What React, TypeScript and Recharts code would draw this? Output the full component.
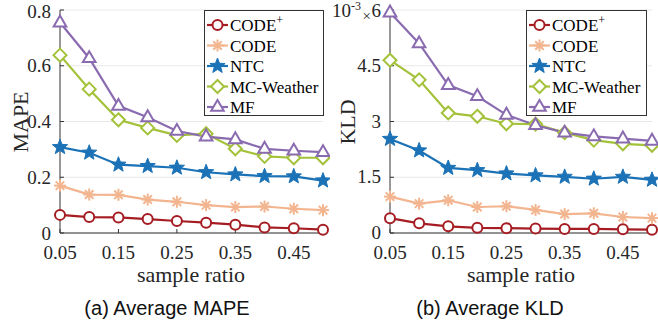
import React from "react";
import { CartesianGrid, Line, LineChart, XAxis, YAxis } from "recharts";

const ratios = [0.05, 0.1, 0.15, 0.2, 0.25, 0.3, 0.35, 0.4, 0.45, 0.5];
const xTicks = [0.05, 0.15, 0.25, 0.35, 0.45];

const mapeCodePlus = [0.065, 0.057, 0.056, 0.05, 0.043, 0.037, 0.03, 0.02, 0.017, 0.012];
const mapeCode = [0.17, 0.138, 0.137, 0.12, 0.112, 0.1, 0.093, 0.095, 0.087, 0.082];
const mapeNtc = [0.308, 0.288, 0.245, 0.24, 0.234, 0.218, 0.21, 0.204, 0.203, 0.188];
const mapeMcw = [0.638, 0.516, 0.406, 0.377, 0.35, 0.356, 0.302, 0.275, 0.27, 0.27];
const mapeMf = [0.755, 0.627, 0.456, 0.415, 0.366, 0.346, 0.336, 0.302, 0.295, 0.29];
const mapeTicks = [0, 0.2, 0.4, 0.6, 0.8];

const kldCodePlus = [0.4, 0.26, 0.18, 0.14, 0.13, 0.12, 0.11, 0.11, 0.1, 0.09];
const kldCode = [0.98, 0.79, 0.88, 0.7, 0.72, 0.62, 0.51, 0.53, 0.43, 0.4];
const kldNtc = [2.53, 2.22, 1.75, 1.69, 1.6, 1.55, 1.51, 1.46, 1.51, 1.43];
const kldMcw = [4.65, 4.12, 3.23, 3.14, 2.94, 2.93, 2.7, 2.5, 2.4, 2.36];
const kldMf = [5.93, 5.1, 3.98, 3.68, 3.18, 2.9, 2.7, 2.6, 2.54, 2.48];
const kldTicks = [0, 1.5, 3, 4.5, 6];

const SERIES = [
  { key: "codePlus", name: "CODE", sup: "+", color: "#a51d23", marker: "circle" },
  { key: "code", name: "CODE", sup: "", color: "#f2b58f", marker: "asterisk" },
  { key: "ntc", name: "NTC", sup: "", color: "#1b72b6", marker: "star" },
  { key: "mcw", name: "MC-Weather", sup: "", color: "#a3c23a", marker: "diamond" },
  { key: "mf", name: "MF", sup: "", color: "#8a6bb0", marker: "triangle" },
];

const SERIF = "'Liberation Serif', 'Times New Roman', serif";
const SANS = "'Liberation Sans', Arial, sans-serif";
const AXIS = "#333";

function Marker({ kind, cx, cy, color }: { kind: string; cx: number; cy: number; color: string }) {
  if (cx == null || cy == null) return null;
  const sw = 2;
  if (kind === "circle") return <circle cx={cx} cy={cy} r={5} fill="#fff" stroke={color} strokeWidth={sw} />;
  if (kind === "diamond") {
    const r = 6.5;
    return <polygon points={`${cx},${cy - r} ${cx + r},${cy} ${cx},${cy + r} ${cx - r},${cy}`} fill="#fff" stroke={color} strokeWidth={sw} />;
  }
  if (kind === "triangle") {
    const r = 7;
    return <polygon points={`${cx},${cy - r} ${cx + r * 0.9},${cy + r * 0.55} ${cx - r * 0.9},${cy + r * 0.55}`} fill="#fff" stroke={color} strokeWidth={sw} />;
  }
  if (kind === "star") {
    const pts: string[] = [];
    for (let i = 0; i < 10; i++) {
      const r = i % 2 === 0 ? 8 : 3.4;
      const a = -Math.PI / 2 + (i * Math.PI) / 5;
      pts.push(`${cx + r * Math.cos(a)},${cy + r * Math.sin(a)}`);
    }
    return <polygon points={pts.join(" ")} fill={color} stroke={color} strokeWidth={1} />;
  }
  const r = 6;
  const d = r * 0.707;
  return (
    <g stroke={color} strokeWidth={sw}>
      <line x1={cx - r} y1={cy} x2={cx + r} y2={cy} />
      <line x1={cx} y1={cy - r} x2={cx} y2={cy + r} />
      <line x1={cx - d} y1={cy - d} x2={cx + d} y2={cy + d} />
      <line x1={cx - d} y1={cy + d} x2={cx + d} y2={cy - d} />
    </g>
  );
}

function LegendBox({ left, width }: { left: number; width: number }) {
  return (
    <svg style={{ position: "absolute", left, top: 10 }} width={width} height={106}>
      <rect x={0.5} y={0.5} width={width - 1} height={105} fill="#fff" stroke={AXIS} strokeWidth={1} />
      {SERIES.map((s, i) => {
        const y = 15 + i * 20.5;
        return (
          <g key={s.key}>
            <line x1={3} y1={y} x2={24} y2={y} stroke={s.color} strokeWidth={2.2} />
            <Marker kind={s.marker} cx={13.5} cy={y} color={s.color} />
            <text x={26} y={y + 6} fontFamily={SERIF} fontSize={17} fill="#000">
              {s.name}
              {s.sup && (
                <tspan dy={-7} fontSize={12}>
                  {s.sup}
                </tspan>
              )}
            </text>
          </g>
        );
      })}
    </svg>
  );
}

function KldTick(props: any) {
  const { x, y, payload } = props;
  if (payload.value === 6) {
    return (
      <g fontFamily={SERIF} fill="#262626">
        <text x={x} y={y + 7} textAnchor="end" fontSize={19}>6</text>
        <text x={x - 10} y={y + 11} textAnchor="end" fontSize={15}>×</text>
        <text x={x - 20} y={y} textAnchor="end" fontSize={12}>-3</text>
        <text x={x - 30} y={y + 7} textAnchor="end" fontSize={19}>10</text>
      </g>
    );
  }
  return (
    <text x={x} y={y} dy={6} textAnchor="end" fontFamily={SERIF} fontSize={19} fill="#262626">
      {payload.value}
    </text>
  );
}

function Panel({
  rows,
  yTicks,
  yMax,
  yLabel,
  yLabelX,
  caption,
  captionX,
  width,
  kld,
}: {
  rows: any[];
  yTicks: number[];
  yMax: number;
  yLabel: string;
  yLabelX: number;
  caption: string;
  captionX: number;
  width: number;
  kld?: boolean;
}) {
  const tickStyle = { fontFamily: SERIF, fontSize: 19, fill: "#262626" };
  return (
    <LineChart width={width} height={322} data={rows} margin={{ top: 10, right: 7, left: 0, bottom: 0 }}>
      <CartesianGrid horizontal vertical={false} stroke="#e8e8e8" strokeWidth={1} />
      <XAxis
        dataKey="ratio"
        type="number"
        domain={[0.05, 0.5]}
        ticks={xTicks}
        tick={tickStyle}
        tickSize={-4}
        tickMargin={17}
        stroke={AXIS}
        height={89}
        label={{
          content: () => (
            <g>
              <text x={60 + 131} y={282} textAnchor="middle" fontFamily={SERIF} fontSize={22} fill="#262626">
                sample ratio
              </text>
              <text x={captionX} y={315} textAnchor="middle" fontFamily={SANS} fontSize={20} fill="#111">
                {caption}
              </text>
            </g>
          ),
        }}
      />
      <XAxis xAxisId="top" orientation="top" dataKey="ratio" type="number" domain={[0.05, 0.5]} ticks={xTicks} tick={false} tickSize={-4} stroke={AXIS} height={0} />
      <YAxis
        type="number"
        domain={[0, yMax]}
        ticks={yTicks}
        tick={kld ? <KldTick /> : tickStyle}
        tickSize={-4}
        tickMargin={13}
        stroke={AXIS}
        width={60}
        label={{
          content: () => (
            <text x={yLabelX} y={122} transform={`rotate(-90, ${yLabelX}, 122)`} textAnchor="middle" fontFamily={SERIF} fontSize={22} fill="#262626">
              {yLabel}
            </text>
          ),
        }}
      />
      <YAxis yAxisId="right" orientation="right" type="number" domain={[0, yMax]} ticks={yTicks} tick={false} tickSize={-4} stroke={AXIS} width={0} />
      {SERIES.map((s) => (
        <Line
          key={s.key}
          dataKey={s.key}
          stroke={s.color}
          strokeWidth={2.2}
          isAnimationActive={false}
          dot={(p: any) => <Marker key={`${s.key}-${p.index}`} kind={s.marker} cx={p.cx} cy={p.cy} color={s.color} />}
          activeDot={false}
        />
      ))}
    </LineChart>
  );
}

const mapeRows = ratios.map((r, i) => ({
  ratio: r,
  codePlus: mapeCodePlus[i],
  code: mapeCode[i],
  ntc: mapeNtc[i],
  mcw: mapeMcw[i],
  mf: mapeMf[i],
}));

const kldRows = ratios.map((r, i) => ({
  ratio: r,
  codePlus: kldCodePlus[i],
  code: kldCode[i],
  ntc: kldNtc[i],
  mcw: kldMcw[i],
  mf: kldMf[i],
}));

export default function App() {
  return (
    <div style={{ position: "absolute", left: 0, top: 0, width: 658, height: 322, background: "#fff" }}>
      <div style={{ position: "absolute", left: 0, top: 0 }}>
        <Panel rows={mapeRows} yTicks={mapeTicks} yMax={0.8} yLabel="MAPE" yLabelX={28} caption="(a) Average MAPE" captionX={167} width={330} />
      </div>
      <div style={{ position: "absolute", left: 330, top: 0 }}>
        <Panel rows={kldRows} yTicks={kldTicks} yMax={6} yLabel="KLD" yLabelX={25} caption="(b) Average KLD" captionX={160} width={329} kld />
      </div>
      <LegendBox left={204} width={120} />
      <LegendBox left={526} width={121} />
    </div>
  );
}
